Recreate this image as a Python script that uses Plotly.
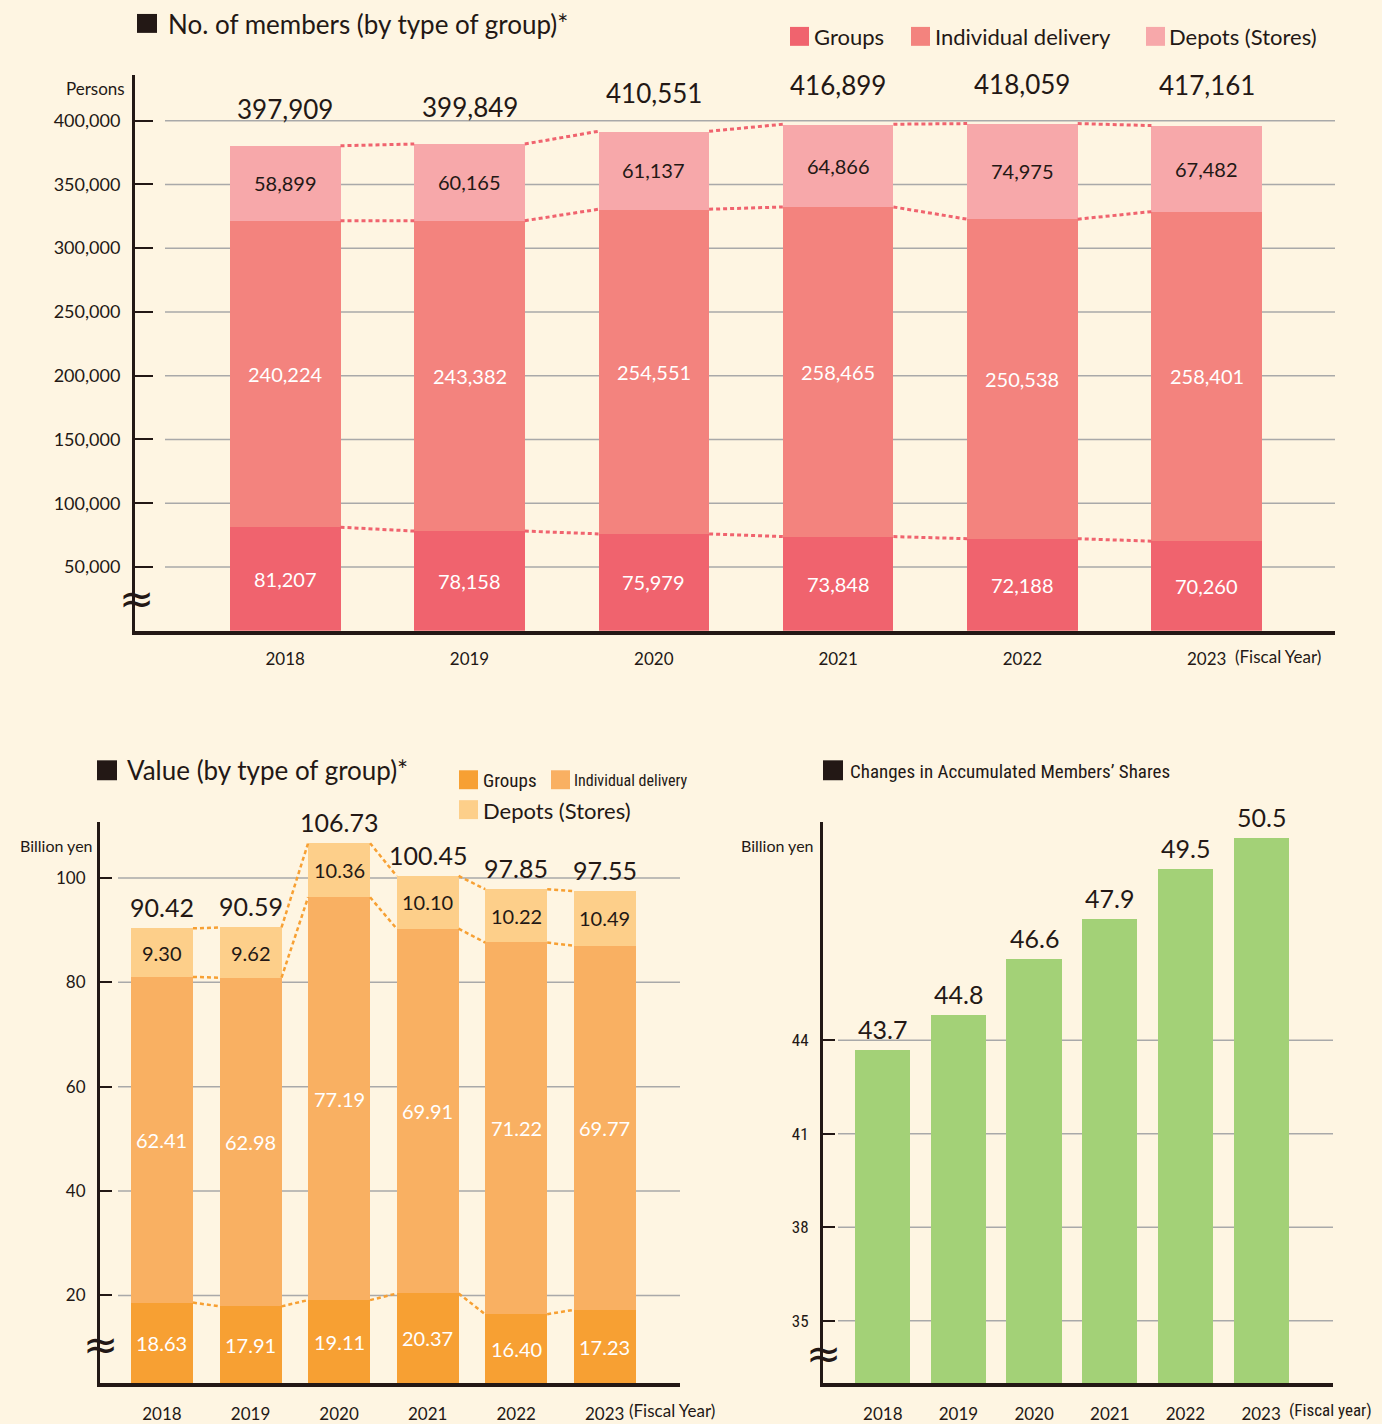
import plotly.graph_objects as go

W, H = 1382, 1424
def px(x): return x / W
def py(y): return 1 - y / H

# ---------------- data ----------------
years = ["2018", "2019", "2020", "2021", "2022", "2023"]

mem_groups = [81207, 78158, 75979, 73848, 72188, 70260]
mem_individual = [240224, 243382, 254551, 258465, 250538, 258401]
mem_depots = [58899, 60165, 61137, 64866, 74975, 67482]
mem_totals = [397909, 399849, 410551, 416899, 418059, 417161]
mem_ticks = [50000, 100000, 150000, 200000, 250000, 300000, 350000, 400000]

val_groups = [18.63, 17.91, 19.11, 20.37, 16.40, 17.23]
val_individual = [62.41, 62.98, 77.19, 69.91, 71.22, 69.77]
val_depots = [9.30, 9.62, 10.36, 10.10, 10.22, 10.49]
val_totals = [90.42, 90.59, 106.73, 100.45, 97.85, 97.55]
val_ticks = [20, 40, 60, 80, 100]

shares = [43.7, 44.8, 46.6, 47.9, 49.5, 50.5]
share_ticks = [35, 38, 41, 44]

# ---------------- style ----------------
BG = "#FEF5E2"
DARK = "#231815"
GRID = "#A9A9A9"
RED1, RED2, RED3 = "#F0636E", "#F3837E", "#F7A8AA"
OR1, OR2, OR3 = "#F7A033", "#F9B062", "#FDCF8A"
GREEN = "#A3D177"
FONT = "Lato, 'Noto Sans', sans-serif"
NARROW = ("'Roboto Condensed', 'Noto Sans Condensed', 'Open Sans Condensed', "
          "'DejaVu Sans Condensed', 'Liberation Sans Narrow', Lato, sans-serif")

xs = list(range(len(years)))
W_TOP, W_BL, W_BR = 0.6, 0.7, 0.73
Y_TOP = [0, 436000]
Y_BL = [3.2, 110.7]
Y_BR = [33, 51]

fig = go.Figure()

def add_bar(y, color, w, xa, ya):
    fig.add_trace(go.Bar(x=xs, y=y, width=w, marker=dict(color=color, line=dict(width=0)),
                         xaxis=xa, yaxis=ya, showlegend=False, hoverinfo="skip"))

def connectors(levels, w, color, width, xa, ya, dash):
    cx, cy = [], []
    for i in range(len(levels) - 1):
        cx += [i + w / 2, i + 1 - w / 2, None]
        cy += [levels[i], levels[i + 1], None]
    fig.add_trace(go.Scatter(x=cx, y=cy, mode="lines", xaxis=xa, yaxis=ya,
                             line=dict(color=color, width=width, dash=dash),
                             showlegend=False, hoverinfo="skip"))

annotations = []
shapes = []

def seg_labels(lows, highs, fmt, color, size, xref, yref, ymin):
    for i, (lo, hi) in enumerate(zip(lows, highs)):
        mid = (max(lo, ymin) + hi) / 2
        annotations.append(dict(x=i, y=mid, xref=xref, yref=yref, text=fmt(hi - lo),
                                showarrow=False, font=dict(family=FONT, size=size, color=color)))

# ---------- top chart ----------
c1 = mem_groups
c2 = [a + b for a, b in zip(c1, mem_individual)]
c3 = [a + b for a, b in zip(c2, mem_depots)]
add_bar(mem_groups, RED1, W_TOP, "x", "y")
add_bar(mem_individual, RED2, W_TOP, "x", "y")
add_bar(mem_depots, RED3, W_TOP, "x", "y")
for lv in (c1, c2, c3):
    connectors(lv, W_TOP, RED1, 3, "x", "y", "4px,3px")
seg_labels([0] * 6, c1, lambda v: f"{v:,}", "white", 20, "x", "y", Y_TOP[0])
seg_labels(c1, c2, lambda v: f"{v:,}", "white", 20, "x", "y", Y_TOP[0])
seg_labels(c2, c3, lambda v: f"{v:,}", DARK, 20, "x", "y", Y_TOP[0])
for i, t in enumerate(mem_totals):
    annotations.append(dict(x=i, y=t, xref="x", yref="y", text=f"{t:,}", showarrow=False,
                            yanchor="bottom", yshift=-4, font=dict(family=FONT, size=26, color=DARK)))
for t in mem_ticks:
    shapes.append(dict(type="line", xref="paper", yref="y", x0=px(165), x1=px(1335), y0=t, y1=t,
                       line=dict(color=GRID, width=1.5), layer="below"))

# ---------- bottom-left chart ----------
d1 = val_groups
d2 = [a + b for a, b in zip(d1, val_individual)]
d3 = [a + b for a, b in zip(d2, val_depots)]
add_bar(val_groups, OR1, W_BL, "x2", "y2")
add_bar(val_individual, OR2, W_BL, "x2", "y2")
add_bar(val_depots, OR3, W_BL, "x2", "y2")
for lv in (d1, d2, d3):
    connectors(lv, W_BL, OR1, 2.5, "x2", "y2", "4px,3px")
seg_labels([0] * 6, d1, lambda v: f"{v:.2f}", "white", 20, "x2", "y2", Y_BL[0])
seg_labels(d1, d2, lambda v: f"{v:.2f}", "white", 20, "x2", "y2", Y_BL[0])
seg_labels(d2, d3, lambda v: f"{v:.2f}", DARK, 20, "x2", "y2", Y_BL[0])
for i, t in enumerate(val_totals):
    annotations.append(dict(x=i, y=t, xref="x2", yref="y2", text=f"{t:.2f}", showarrow=False,
                            yanchor="bottom", yshift=4, font=dict(family=FONT, size=25, color=DARK)))
for t in val_ticks:
    shapes.append(dict(type="line", xref="paper", yref="y2", x0=px(118), x1=px(680), y0=t, y1=t,
                       line=dict(color=GRID, width=1.5), layer="below"))

# ---------- bottom-right chart ----------
add_bar(shares, GREEN, W_BR, "x3", "y3")
for i, t in enumerate(shares):
    annotations.append(dict(x=i, y=t, xref="x3", yref="y3", text=f"{t:.1f}", showarrow=False,
                            yanchor="bottom", yshift=4, font=dict(family=FONT, size=25, color=DARK)))
for t in share_ticks:
    shapes.append(dict(type="line", xref="paper", yref="y3", x0=px(838), x1=px(1333), y0=t, y1=t,
                       line=dict(color=GRID, width=1.5), layer="below"))

# ---------- titles, legends, units ----------
def square(x0, y0, x1, y1, color):
    shapes.append(dict(type="rect", xref="paper", yref="paper", x0=px(x0), x1=px(x1),
                       y0=py(y1), y1=py(y0), fillcolor=color, line=dict(width=0), layer="above"))

def text(x, y, s, size, family=FONT, xanchor="left", color=DARK):
    annotations.append(dict(x=px(x), y=py(y), xref="paper", yref="paper", text=s, showarrow=False,
                            xanchor=xanchor, yanchor="middle",
                            font=dict(family=family, size=size, color=color)))

square(137, 14, 157, 33, DARK)
text(166, 24, "No. of members (by type of group)*", 26)
square(97, 763, 117, 783, DARK)
text(125, 773, "Value (by type of group)*", 26)
square(823, 763, 843, 783, DARK)
text(848, 774, "Changes in Accumulated Members’ Shares", 19, NARROW)

# top legend
square(790, 27, 809, 46, RED1); text(812, 37, "Groups", 22)
square(911, 27, 930, 46, RED2); text(933, 37, "Individual delivery", 22)
square(1146, 27, 1165, 46, RED3); text(1167, 37, "Depots (Stores)", 22)
# bottom-left legend
square(459, 773, 478, 792, OR1); text(481, 783, "Groups", 19, NARROW)
square(551, 773, 570, 792, OR2); text(572, 783, "Individual delivery", 16, NARROW)
square(459, 803, 478, 822, OR3); text(481, 813, "Depots (Stores)", 22)

# units
text(95, 89, "Persons", 17, xanchor="center")
text(56, 848, "Billion yen", 16, xanchor="center")
text(777, 848, "Billion yen", 16, xanchor="center")

# fiscal year suffix
text(1233, 659, "(Fiscal Year)", 17)
text(627, 1415, "(Fiscal Year)", 17)
text(1287, 1415, "(Fiscal year)", 17, NARROW)

# axis break marks
text(136, 601, "≈", 42, "DejaVu Sans", xanchor="center")
text(100, 1349, "≈", 42, "DejaVu Sans", xanchor="center")
text(823, 1358, "≈", 42, "DejaVu Sans", xanchor="center")

# ---------- axes ----------
def xax(domain, rng, anchor, standoff):
    return dict(domain=domain, range=rng, anchor=anchor, tickvals=xs, ticktext=years,
                showline=True, linecolor=DARK, linewidth=4, ticks="", showgrid=False,
                zeroline=False, ticklabelstandoff=standoff,
                tickfont=dict(family=FONT, size=17, color=DARK), fixedrange=True)

def yax(domain, rng, anchor, tv, tt, ticklen, size, family=FONT):
    return dict(domain=domain, range=rng, anchor=anchor, tickvals=tv, ticktext=tt,
                showline=True, linecolor=DARK, linewidth=3, ticks="inside", ticklen=ticklen,
                tickwidth=2, tickcolor=DARK, showgrid=False, zeroline=False,
                ticklabelstandoff=8, tickfont=dict(family=family, size=size, color=DARK),
                fixedrange=True)

fig.update_layout(
    width=W, height=H, margin=dict(l=0, r=0, t=0, b=0),
    paper_bgcolor=BG, plot_bgcolor=BG, barmode="stack", bargap=0,
    showlegend=False,
    xaxis=xax([px(135), px(1335)], [-0.815, 5.696], "y", 10),
    yaxis=yax([py(633), py(75)], Y_TOP, "x", mem_ticks, [f"{t:,}" for t in mem_ticks], 18, 18),
    xaxis2=xax([px(100), px(680)], [-0.70, 5.85], "y2", 12),
    yaxis2=yax([py(1388), py(825)], Y_BL, "x2", val_ticks, [str(t) for t in val_ticks], 12, 17),
    xaxis3=xax([px(823), px(1333)], [-0.79, 5.95], "y3", 12),
    yaxis3=yax([py(1388), py(825)], Y_BR, "x3", share_ticks, [str(t) for t in share_ticks], 12, 17, NARROW),
    annotations=annotations, shapes=shapes,
)

fig.write_html(
    "out.html",
    config={"displayModeBar": False},
    post_script="document.body.style.margin='0';document.body.style.padding='0';"
                "document.body.style.overflow='hidden';"
                "document.body.style.background='" + BG + "';",
)
